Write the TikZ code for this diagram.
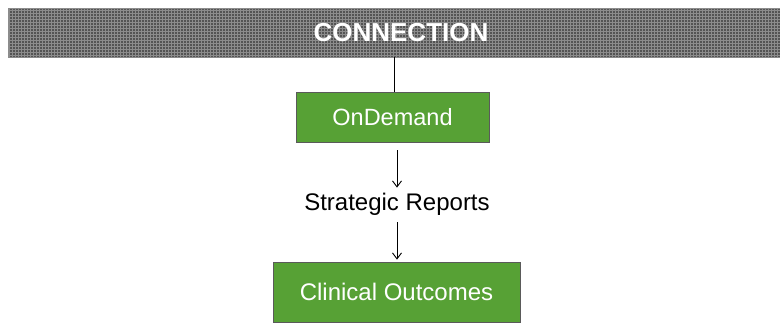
\documentclass[tikz,border=0pt]{standalone}
\usepackage{fontspec}
\setmainfont{Liberation Sans}
\usepackage{xcolor}
\usepackage{tikz}
\usetikzlibrary{arrows.meta, positioning, patterns}
\definecolor{bannergray}{RGB}{84,84,84}
\definecolor{gridgray}{RGB}{140,140,140}
\definecolor{boxgreen}{RGB}{87,161,53}
\definecolor{boxborder}{RGB}{90,90,90}

\begin{document}
\begin{tikzpicture}[
    x=1pt, y=-1pt,
    banner/.style={fill=bannergray, draw=gridgray, minimum width=772pt, minimum height=49pt, inner sep=0pt},
    greenbox/.style={fill=boxgreen, draw=boxborder, line width=0.8pt, inner sep=0pt, text=white},
    flowlabel/.style={inner sep=0pt, font=\fontsize{24}{28}\selectfont},
    flow/.style={-{Straight Barb[length=6pt, width=9pt]}, line width=0.9pt}
]
    \useasboundingbox (0,0) rectangle (780,322);
    % Header
    \node[banner] (conn) at (394,32.5) {};
    \fill[pattern=grid, pattern color=gridgray] (8,8) rectangle (780,57);
    \node[text=white, font=\fontsize{26}{30}\selectfont\bfseries] (conntext) at (401,33) {CONNECTION};
    % Boxes
    \node[greenbox, minimum width=193pt, minimum height=50pt, font=\fontsize{23.5}{27}\selectfont] (ondemand) at (392.5,117) {OnDemand};
    \node[flowlabel] (reports) at (397,204) {Strategic Reports};
    \node[greenbox, minimum width=247pt, minimum height=60pt, font=\fontsize{24}{28}\selectfont] (clinical) at (396.5,292) {Clinical Outcomes};
    % Links
    \draw[line width=0.9pt] (conn.south) -- (conn.south |- ondemand.north);
    \draw[flow, shorten <=8pt, shorten >=5pt] (ondemand.south -| reports) -- (reports.north);
    \draw[flow, shorten <=7pt, shorten >=2pt] (reports.south) -- (reports.south |- clinical.north);
\end{tikzpicture}
\end{document}
